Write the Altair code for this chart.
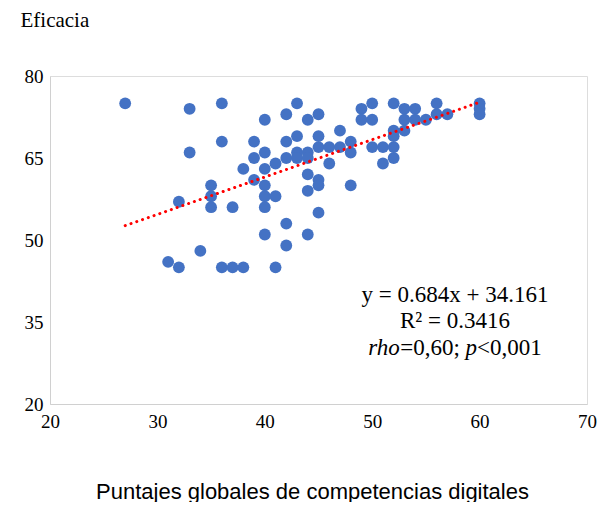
import altair as alt
import pandas as pd

# ---- data ----
xs = [27, 33, 36, 36, 33, 38, 39, 39, 39, 35, 35, 32, 35, 37, 34, 31, 32, 36, 37, 38,
      40, 40, 40, 40, 40, 40, 40,
      41, 41, 41,
      42, 42, 42, 42, 42,
      43, 43, 43, 43,
      44, 44, 44, 44, 44, 44,
      45, 45, 45, 45, 45, 45,
      46, 46, 47, 47, 48, 48, 48, 49, 49, 50, 50, 50, 51, 51,
      52, 52, 52, 52, 52, 53, 53, 53, 54, 54, 55, 56, 56, 57, 60, 60, 60]
ys = [75, 74, 75, 68, 66, 63, 68, 65, 61, 60, 58, 57, 56, 56, 48, 46, 45, 45, 45, 45,
      72, 66, 63, 60, 58, 56, 51,
      64, 58, 45,
      73, 68, 65, 53, 49,
      75, 69, 66, 65,
      72, 66, 65, 62, 59, 51,
      73, 69, 67, 61, 60, 55,
      67, 64, 70, 67, 68, 66, 60, 74, 72, 75, 72, 67, 67, 64,
      75, 70, 69, 67, 65, 74, 72, 70, 74, 72, 72, 75, 73, 73, 75, 74, 73]

slope = 0.684
intercept = 34.161
x_ticks = [20, 30, 40, 50, 60, 70]
y_ticks = [20, 35, 50, 65, 80]
eq_lines = ["y = 0.684x + 34.161", "R\u00b2 = 0.3416"]

df = pd.DataFrame({"x": xs, "y": ys})
xmin, xmax = min(xs), max(xs)
trend = pd.DataFrame({"x": [xmin, xmax], "y": [slope * xmin + intercept, slope * xmax + intercept]})

W, H = 537, 328
SERIF = "Liberation Serif"
SANS = "Liberation Sans"

xscale = alt.Scale(domain=[20, 70], nice=False)
yscale = alt.Scale(domain=[20, 80], nice=False)

xaxis = alt.Axis(values=x_ticks, title="Puntajes globales de competencias digitales",
                 titleFont=SANS, titleFontSize=22, titleFontWeight="normal", titleColor="#000000",
                 titleX=262, titleY=87, titleBaseline="middle", titleAlign="center",
                 labelFont=SERIF, labelFontSize=19, labelColor="#000000", labelPadding=8,
                 ticks=False, tickSize=0, grid=False, domainColor="#d0d0d0", labelFlush=False)
yaxis = alt.Axis(values=y_ticks, title="Eficacia", titleAngle=0, titleFont=SERIF,
                 titleFontSize=21, titleFontWeight="normal", titleColor="#000000",
                 titleX=-30, titleY=-56, titleAlign="left", titleBaseline="middle",
                 labelFont=SERIF, labelFontSize=19, labelColor="#000000", labelPadding=7,
                 ticks=False, tickSize=0, grid=False, domainColor="#d0d0d0")

points = alt.Chart(df).mark_circle(size=140, color="#4472C4", opacity=1).encode(
    x=alt.X("x:Q", scale=xscale, axis=xaxis),
    y=alt.Y("y:Q", scale=yscale, axis=yaxis),
)

line = alt.Chart(trend).mark_line(color="#FF0000", strokeWidth=3, strokeDash=[0.1, 6],
                                  strokeCap="round").encode(
    x=alt.X("x:Q", scale=xscale), y=alt.Y("y:Q", scale=yscale))

F = 23
cx = 405
txt1 = alt.Chart(pd.DataFrame({"t": [eq_lines[0]]})).mark_text(
    font=SERIF, fontSize=F, align="center", baseline="middle", color="#000000").encode(
    text="t:N", x=alt.value(cx), y=alt.value(219))
txt2 = alt.Chart(pd.DataFrame({"t": [eq_lines[1]]})).mark_text(
    font=SERIF, fontSize=F, align="center", baseline="middle", color="#000000").encode(
    text="t:N", x=alt.value(cx), y=alt.value(245))

pieces = [("rho", "italic", 1.389), ("=0,60;", "normal", 2.842), ("p", "italic", 0.5), ("<0,001", "normal", 2.814)]
total = sum(w for _, _, w in pieces) * F
start = cx - total / 2
layers3 = []
pos = start
for t, style, w in pieces:
    layers3.append(alt.Chart(pd.DataFrame({"t": [t]})).mark_text(
        font=SERIF, fontSize=F, fontStyle=style, align="left", baseline="middle",
        color="#000000").encode(text="t:N", x=alt.value(pos), y=alt.value(272)))
    pos += w * F

chart = alt.layer(points, line, txt1, txt2, *layers3).properties(
    width=W, height=H,
    autosize=alt.AutoSizeParams(type="none"),
    padding={"left": 42, "top": 68, "right": 11, "bottom": 98},
).configure_view(stroke=None).configure(background="#ffffff")

chart.save("out.html", embed_options={"renderer": "svg", "actions": False})
